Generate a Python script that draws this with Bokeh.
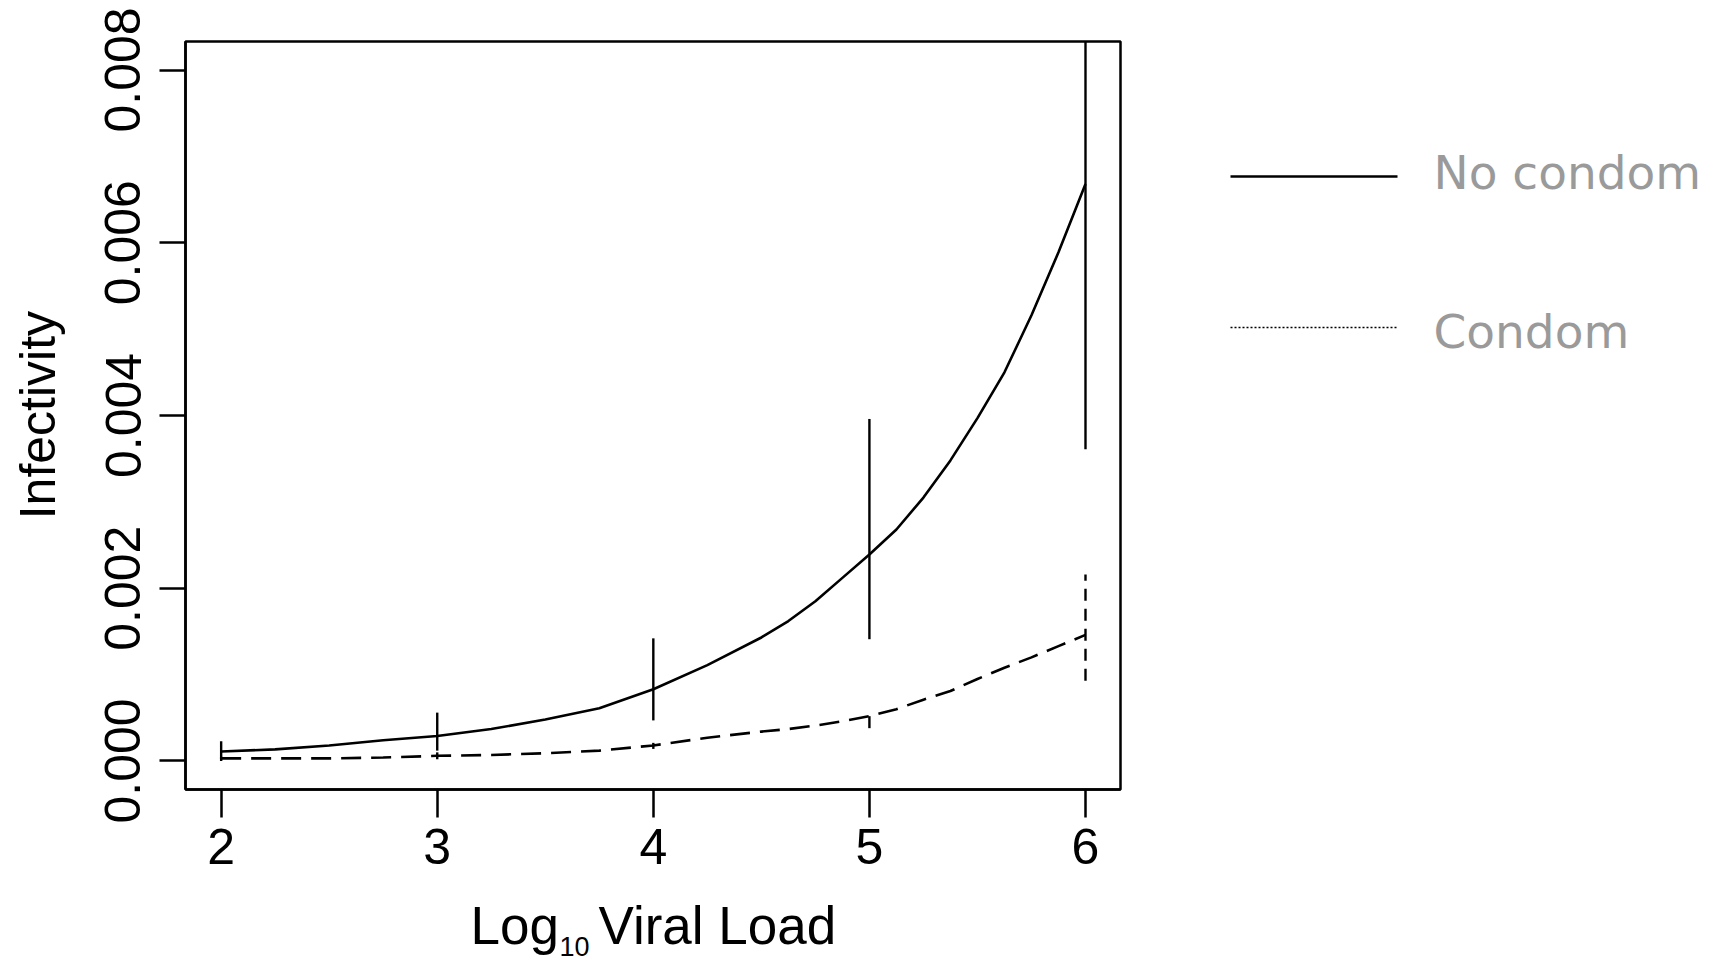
import math
from bokeh.plotting import figure
from bokeh.models import Range1d, FixedTicker, NumeralTickFormatter
from bokeh.layouts import row, column
from bokeh.embed import file_html
from bokeh.resources import INLINE
from bokeh.core.properties import value

# ---------------- data ----------------
log_vl = [2.0, 2.25, 2.5, 2.75, 3.0, 3.25, 3.5, 3.75, 4.0, 4.25, 4.5, 4.625, 4.75, 4.875,
          5.0, 5.125, 5.25, 5.375, 5.5, 5.625, 5.75, 5.875, 6.0]
no_condom = [0.00011, 0.000135, 0.00018, 0.00024, 0.00029, 0.00037, 0.00048, 0.00061, 0.00083,
             0.00111, 0.00143, 0.00162, 0.00185, 0.00212, 0.00239, 0.00268, 0.00305, 0.00348,
             0.00397, 0.00450, 0.00516, 0.00589, 0.00668]
condom = [0.00003, 0.00003, 0.00003, 0.00004, 0.00006, 0.00007, 0.00009, 0.00012, 0.00018,
          0.00027, 0.00034, 0.00037, 0.00041, 0.00046, 0.00052, 0.00060, 0.00071, 0.00081,
          0.00095, 0.00108, 0.00120, 0.00133, 0.00146]

err_x = [2, 3, 4, 5, 6]
no_condom_lower = [0.00002, 0.00012, 0.00047, 0.00141, 0.00361]
no_condom_upper = [0.00023, 0.00056, 0.00142, 0.00396, 0.00950]
condom_lower = [0.00000, 0.00002, 0.00014, 0.00038, 0.00093]
condom_upper = [0.00005, 0.00010, 0.00021, 0.00054, 0.00216]

x_ticks = [2, 3, 4, 5, 6]
y_ticks = [0.000, 0.002, 0.004, 0.006, 0.008]
series_names = ["No condom", "Condom"]
x_title = ["Log", "10", "Viral Load"]
y_title = "Infectivity"

FONT = "Liberation Sans"
TOTAL_W, TOTAL_H = 1712, 961
TOP_H = 885            # height of the row holding the plot
LEFT_W = 70            # strip holding the y title
PLOT_W = 1088          # main plot figure width
B_TOP, B_BOT = 41, 96  # plot borders (frames in the row are aligned)


def blank(width, height, xr, yr, top=0, bottom=0):
    f = figure(width=width, height=height, output_backend="svg", toolbar_location=None,
               x_range=Range1d(*xr), y_range=Range1d(*yr),
               x_axis_location=None, y_axis_location=None,
               min_border_left=0, min_border_right=0, min_border_top=top, min_border_bottom=bottom)
    f.outline_line_color = None
    f.xgrid.visible = False
    f.ygrid.visible = False
    f.background_fill_color = "white"
    f.border_fill_color = "white"
    return f


# ---------------- main plot ----------------
p = figure(width=PLOT_W, height=TOP_H, output_backend="svg", toolbar_location=None,
           x_range=Range1d(1.835, 6.162), y_range=Range1d(-0.00033, 0.00833),
           min_border_left=115, min_border_right=38, min_border_top=B_TOP, min_border_bottom=B_BOT)
p.background_fill_color = "white"
p.border_fill_color = "white"
p.xgrid.visible = False
p.ygrid.visible = False
p.outline_line_color = "black"
p.outline_line_width = 2.5

for ax in (p.xaxis[0], p.yaxis[0]):
    ax.axis_line_color = "black"
    ax.axis_line_width = 2.5
    ax.major_tick_line_color = "black"
    ax.major_tick_line_width = 2.5
    ax.major_tick_in = 0
    ax.minor_tick_line_color = None
    ax.major_label_text_font = FONT
    ax.major_label_text_font_size = "50px"
    ax.major_label_text_color = "black"

p.xaxis.ticker = FixedTicker(ticks=x_ticks)
p.xaxis.formatter = NumeralTickFormatter(format="0")
p.xaxis.major_tick_out = 28
p.xaxis.major_label_standoff = 11

p.yaxis.ticker = FixedTicker(ticks=y_ticks)
p.yaxis.formatter = NumeralTickFormatter(format="0.000")
p.yaxis.major_tick_out = 26
p.yaxis.major_label_orientation = "vertical"
p.yaxis.major_label_standoff = 19

# curves
p.line(log_vl, no_condom, line_color="black", line_width=2.6)
p.line(log_vl, condom, line_color="black", line_width=2.6, line_dash="20 10")

# error bars
p.segment(x0=err_x, y0=no_condom_lower, x1=err_x, y1=no_condom_upper,
          line_color="black", line_width=2.4)
p.segment(x0=err_x, y0=condom_lower, x1=err_x, y1=condom_upper,
          line_color="black", line_width=2.4, line_dash="12 8")

# side strips use page-pixel coordinates: data y = TOTAL_H - page y
side_yr = (TOTAL_H - (TOP_H - B_BOT), TOTAL_H - B_TOP)

# ---------------- y title strip ----------------
yf = blank(LEFT_W, TOP_H, (0, LEFT_W), side_yr, B_TOP, B_BOT)
yf.text(x=[37.5], y=[TOTAL_H - 414.6], text=[y_title], angle=math.pi / 2,
        text_font=value(FONT), text_font_size="50px", text_color="black",
        text_align="center", text_baseline="middle")

# ---------------- legend panel ----------------
LG_W = TOTAL_W - LEFT_W - PLOT_W
lg = blank(LG_W, TOP_H, (0, LG_W), side_yr, B_TOP, B_BOT)
lg.line([72, 239], [TOTAL_H - 176] * 2, line_color="black", line_width=2.4)
lg.line([72, 239], [TOTAL_H - 327] * 2, line_color="black", line_width=1.5, line_dash="2 2")
lg.text(x=[275, 275], y=[TOTAL_H - 171.5, TOTAL_H - 330.5], text=series_names,
        text_font=value("DejaVu Sans"), text_font_size="47px", text_color="#9a9a9a",
        text_baseline="middle", text_align="left")

# ---------------- x title strip ----------------
XH = TOTAL_H - TOP_H
xf = blank(TOTAL_W, XH, (0, TOTAL_W), (0, XH))
xf.text(x=[470, 598], y=[TOTAL_H - 924.5] * 2, text=[x_title[0], x_title[2]],
        text_font=value(FONT), text_font_size="53px", text_color="black",
        text_align="left", text_baseline="middle")
xf.text(x=[559], y=[TOTAL_H - 946], text=[x_title[1]],
        text_font=value(FONT), text_font_size="27px", text_color="black",
        text_align="left", text_baseline="middle")

layout = column(row(yf, p, lg, spacing=0), xf, spacing=0)
open("out.html", "w").write(file_html(layout, INLINE))
